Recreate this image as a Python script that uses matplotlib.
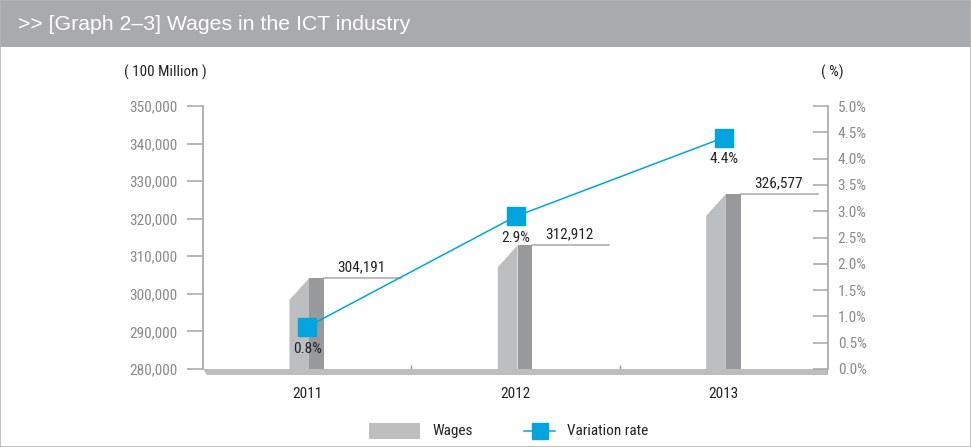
import matplotlib
matplotlib.use("Agg")
import matplotlib.pyplot as plt
from matplotlib import font_manager
from matplotlib.patches import Polygon, Rectangle
from matplotlib.lines import Line2D
import numpy as np

# data
years = ["2011", "2012", "2013"]
wages = [304191, 312912, 326577]
rates = [0.8, 2.9, 4.4]
wage_labels = ["304,191", "312,912", "326,577"]
rate_labels = ["0.8%", "2.9%", "4.4%"]
left_ticks = [280000, 290000, 300000, 310000, 320000, 330000, 340000, 350000]
right_ticks = [0.0, 0.5, 1.0, 1.5, 2.0, 2.5, 3.0, 3.5, 4.0, 4.5, 5.0]

# pick a narrow font if there is one
names = set(f.name for f in font_manager.fontManager.ttflist)
narrow = "DejaVu Sans"
for cand in ["Liberation Sans Narrow", "Roboto Condensed", "Open Sans Condensed"]:
    if cand in names:
        narrow = cand
        break
plt.rcParams["font.family"] = [narrow, "DejaVu Sans"]

W, H = 971, 447
fig = plt.figure(figsize=(W / 100, H / 100), dpi=100)

def fx(x):
    return x / W

def fy(y):
    return 1 - y / H

light = "#bdbec0"
dark = "#98999c"
blue = "#00a5e0"
axgray = "#a6a6a6"
tickgray = "#8a8a8a"

# header band and frame
fig.add_artist(Rectangle((0, fy(47)), 1, 47 / H, transform=fig.transFigure,
                         facecolor="#a9aaad", edgecolor="none"))
fig.add_artist(Rectangle((0.0005, 0.001), 0.999, 0.998, transform=fig.transFigure,
                         facecolor="none", edgecolor="#b5b5b5", lw=1.2))
fig.text(fx(18), fy(25), ">> [Graph 2\u20133] Wages in the ICT industry", color="white",
         fontsize=15.3, family=["Liberation Sans", "DejaVu Sans"], va="center", ha="left")

ax = fig.add_axes([fx(203), fy(369), 625 / W, 263 / H])
ax2 = ax.twinx()

x = np.arange(len(years))
ax.set_xlim(-0.5, 2.5)
ax.set_ylim(280000, 350000)
ax2.set_ylim(0, 5.0)

# pseudo-3D bars
xl, xm, xr = -0.085, 0.01, 0.08
slant = 5800
for i, v in enumerate(wages):
    front = Polygon([(i + xl, 280000), (i + xl, v - slant), (i + xm, v), (i + xm, 280000)],
                    closed=True, facecolor=light, edgecolor="none", zorder=2)
    ax.add_patch(front)
    ax.add_patch(Rectangle((i + xm, 280000), xr - xm, v - 280000,
                           facecolor=dark, edgecolor="none", zorder=2))
    ax.plot([i + xr, i + 0.45], [v, v], color="#a8a8a8", lw=1.1, zorder=2)
    ax.annotate(wage_labels[i], (i + 0.26, v), xytext=(0, 3), textcoords="offset points",
                ha="center", va="bottom", fontsize=11, color="#222222")

# variation rate line
ax2.plot(x, rates, color=blue, lw=1.1, marker="s", markersize=12.5,
         markerfacecolor=blue, markeredgecolor=blue, zorder=5)
for i, r in enumerate(rates):
    ax2.annotate(rate_labels[i], (i, r), xytext=(0, -10.5), textcoords="offset points",
                 ha="center", va="top", fontsize=11, color="#222222")

# axes styling
for a in (ax, ax2):
    a.spines["top"].set_visible(False)
    a.spines["bottom"].set_visible(False)
ax.spines["right"].set_visible(False)
ax2.spines["left"].set_visible(False)
ax.spines["left"].set_color(axgray)
ax2.spines["right"].set_color(axgray)
ax.spines["left"].set_linewidth(1.2)
ax2.spines["right"].set_linewidth(1.2)

ax.set_yticks(left_ticks)
ax.set_yticklabels([f"{t:,}" for t in left_ticks])
ax.tick_params(axis="y", direction="out", length=11.5, width=1.1, color=axgray,
               pad=7, labelsize=11, labelcolor=tickgray)
ax2.set_yticks(right_ticks)
ax2.set_yticklabels([f"{t:.1f}%" for t in right_ticks])
ax2.tick_params(axis="y", direction="in", length=11, width=1.1, color=axgray,
                pad=7, labelsize=11, labelcolor=tickgray)

ax.set_xticks(x)
ax.set_xticklabels(years)
ax.set_xticks([0.5, 1.5], minor=True)
ax.tick_params(axis="x", which="major", length=0, pad=13, labelsize=11, labelcolor="#222222")
ax.tick_params(axis="x", which="minor", direction="in", length=3, width=1, color="#999999")

# floor band
ax.add_patch(Polygon([(0, 0), (1, 0), (1, -0.024), (0.0065, -0.024)], closed=True,
                     transform=ax.transAxes, facecolor="#bcbdbf", edgecolor="none",
                     clip_on=False, zorder=3))

# unit labels
fig.text(fx(165), fy(72), "( 100 Million )", ha="center", va="center", fontsize=10.8, color="#222222")
fig.text(fx(832), fy(72), "( %)", ha="center", va="center", fontsize=10.8, color="#222222")

# legend
fig.add_artist(Rectangle((fx(369), fy(439)), 51 / W, 16 / H, transform=fig.transFigure,
                         facecolor=light, edgecolor="none"))
fig.text(fx(432), fy(431), "Wages", ha="left", va="center", fontsize=11, color="#222222")
fig.add_artist(Line2D([fx(524), fx(555)], [fy(431), fy(431)], transform=fig.transFigure,
                      color=blue, lw=1.1))
fig.add_artist(Line2D([fx(540)], [fy(431)], transform=fig.transFigure, color=blue,
                      marker="s", markersize=11.5, linestyle="none"))
fig.text(fx(567), fy(431), "Variation rate", ha="left", va="center", fontsize=11, color="#222222")

fig.savefig("out.png", dpi=100)
